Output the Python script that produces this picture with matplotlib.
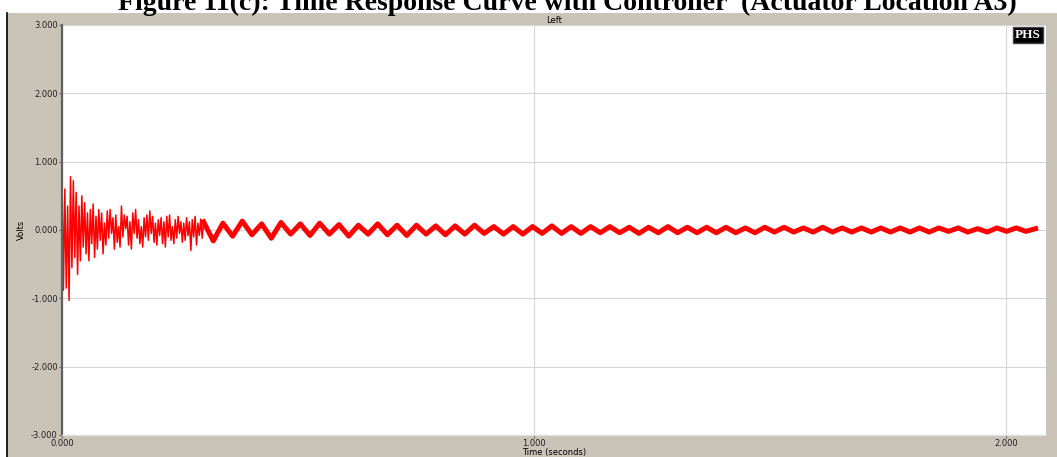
import numpy as np
import matplotlib
matplotlib.use("Agg")
import matplotlib.pyplot as plt
from matplotlib.patches import Rectangle

# early response, sampled every 3 ms (volts)
early_dt = 0.003
early_volts = [
    0.80, -0.88, 0.60, -0.85, 0.35, -1.03, 0.78, -0.55, 0.72, -0.40,
    0.55, -0.65, 0.35, -0.45, 0.50, -0.25, 0.40, -0.35, 0.25, -0.45,
    0.30, -0.20, 0.38, -0.40, 0.20, -0.28, 0.30, -0.15, 0.25, -0.35,
    0.10, -0.22, 0.28, -0.12, 0.30, -0.05, 0.18, -0.28, 0.22, -0.18,
    0.05, -0.25, 0.35, -0.10, 0.22, 0.02, 0.20, -0.22, 0.12, -0.28,
    0.25, -0.05, 0.30, -0.12, 0.15, -0.20, 0.05, -0.25, 0.18, -0.10,
    0.22, -0.15, 0.28, -0.05, 0.20, -0.18, 0.10, -0.22, 0.15, -0.08,
    0.18, -0.20, 0.12, -0.25, 0.20, -0.10, 0.22, -0.15, 0.05, -0.20,
    0.15, -0.12, 0.20, -0.05, 0.12, -0.18, 0.10, -0.15, 0.18, -0.08,
    0.12, -0.30, 0.15, -0.10, 0.20, -0.22, 0.10, -0.08, 0.16, -0.12,
]

# later residual oscillation, peaks/troughs every half period (volts)
late_start = 0.30
late_dt = 0.0205
late_volts = [
    0.12, -0.16, 0.10, -0.09, 0.13, -0.07, 0.09, -0.12, 0.11, -0.06,
    0.09, -0.08, 0.10, -0.06, 0.08, -0.09, 0.07, -0.06, 0.09, -0.07,
    0.07, -0.08, 0.07, -0.06, 0.06, -0.07, 0.06, -0.06, 0.07, -0.05,
    0.05, -0.06, 0.05, -0.06, 0.05, -0.05, 0.06, -0.05, 0.05, -0.05,
    0.05, -0.04, 0.05, -0.04, 0.04, -0.05, 0.04, -0.04, 0.05, -0.04,
    0.04, -0.04, 0.04, -0.04, 0.04, -0.04, 0.03, -0.04, 0.04, -0.03,
    0.04, -0.03, 0.03, -0.03, 0.04, -0.03, 0.03, -0.03, 0.03, -0.03,
    0.03, -0.03, 0.03, -0.03, 0.03, -0.03, 0.03, -0.02, 0.03, -0.03,
    0.02, -0.03, 0.03, -0.02, 0.03, -0.02, 0.02,
]

x_ticks = [0.0, 1.0, 2.0]
y_ticks = [-3, -2, -1, 0, 1, 2, 3]

W, H = 1057, 457
fig = plt.figure(figsize=(W / 100, H / 100), dpi=100)
fig.patch.set_facecolor("white")

panel_top = 1 - 13 / H
fig.add_artist(Rectangle((7 / W, 0), 1 - 7 / W, panel_top, transform=fig.transFigure,
                         facecolor="#cac3b8", edgecolor="none", zorder=-5))
fig.add_artist(plt.Line2D([7 / W, 7 / W], [0, panel_top], transform=fig.transFigure,
                          color="black", lw=1.2, zorder=-4))

fig.text(567 / W, 1 - 10.5 / H, "Figure 11(c): Time Response Curve with Controller  (Actuator Location A3)",
         ha="center", va="baseline", fontsize=20, fontweight="bold", family="Liberation Serif")

ax = fig.add_axes([62 / W, 1 - 435 / H, (1046 - 62) / W, (435 - 25) / H])
ax.set_facecolor("white")

t_early = np.arange(len(early_volts)) * early_dt
t_late = late_start + np.arange(len(late_volts)) * late_dt

ax.plot(np.append(t_early, t_late[0]), early_volts + [late_volts[0]], color="#ff0000", lw=1.1)
ax.plot(t_late, late_volts, color="#ff0000", lw=3.6, solid_joinstyle="round")

ax.set_xlim(0, 2.085)
ax.set_ylim(-3, 3)
ax.set_xticks(x_ticks)
ax.set_yticks(y_ticks)
ax.set_xticklabels([f"{v:.3f}" for v in x_ticks])
ax.set_yticklabels([f"{v:.3f}" for v in y_ticks])
ax.grid(True, color="#d6d6d6", lw=0.8)
ax.set_axisbelow(True)

tick_family = ["Liberation Sans Narrow", "DejaVu Sans"]
for lab in ax.get_xticklabels() + ax.get_yticklabels():
    lab.set_fontfamily(tick_family)
    lab.set_fontsize(6)
    lab.set_color("#202020")
ax.tick_params(axis="both", length=2, width=0.8, color="#606060", pad=1)

for s in ["top", "right"]:
    ax.spines[s].set_visible(False)
ax.spines["left"].set_color("#606060")
ax.spines["left"].set_linewidth(1.6)
ax.spines["bottom"].set_color("#e0e0e0")
ax.spines["bottom"].set_linewidth(1.0)

ax.set_xlabel("Time (seconds)", fontsize=6, family=tick_family, labelpad=0)
ax.set_ylabel("Volts", fontsize=6, family=tick_family, labelpad=4)
ax.set_title("Left", fontsize=6, family=tick_family, pad=0.5)

ax.text(0.9945, 0.99, "PHS", transform=ax.transAxes, ha="right", va="top",
        fontsize=9.5, fontweight="bold", family="Liberation Serif", color="white",
        bbox=dict(boxstyle="square,pad=0.15", facecolor="black", edgecolor="#444444", lw=1))

fig.savefig("out.png", dpi=100)
